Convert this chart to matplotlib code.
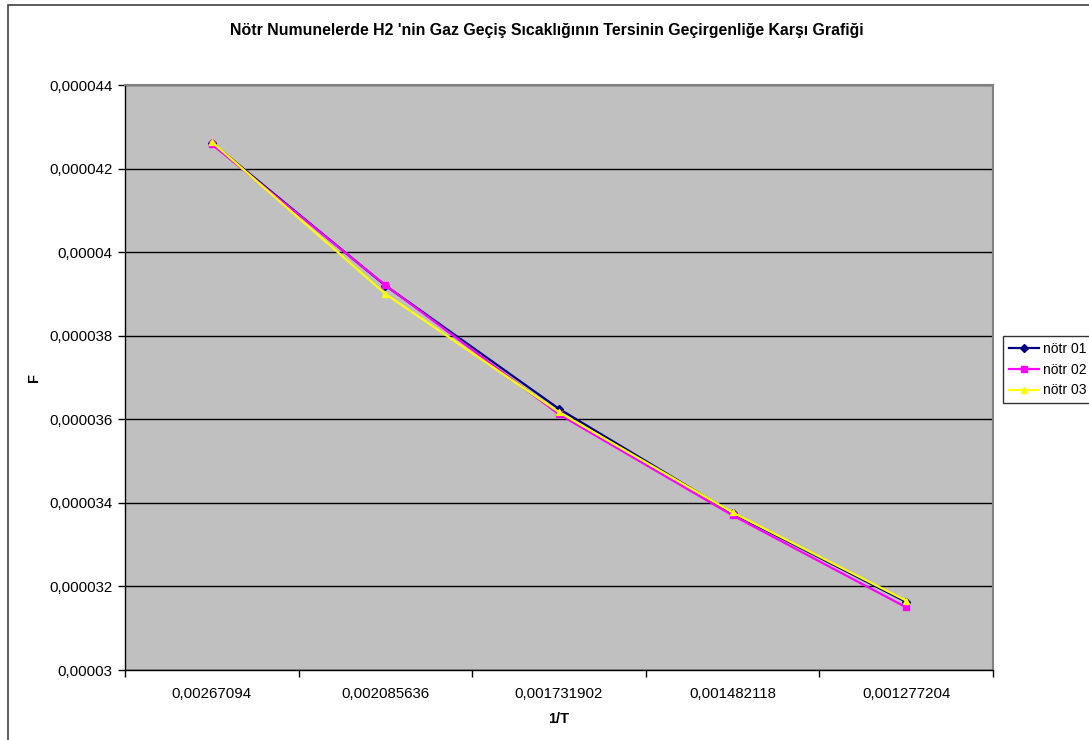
import matplotlib
matplotlib.use("Agg")
import matplotlib.pyplot as plt
from matplotlib.patches import Rectangle
from matplotlib.ticker import FixedLocator

plt.rcParams['font.family'] = ['Liberation Sans', 'DejaVu Sans']

categories = ["0,00267094", "0,002085636", "0,001731902", "0,001482118", "0,001277204"]
notr01 = [42.62e-6, 39.20e-6, 36.25e-6, 33.75e-6, 31.63e-6]
notr02 = [42.58e-6, 39.21e-6, 36.12e-6, 33.70e-6, 31.50e-6]
notr03 = [42.64e-6, 39.00e-6, 36.17e-6, 33.77e-6, 31.66e-6]
y_ticks = [30e-6, 32e-6, 34e-6, 36e-6, 38e-6, 40e-6, 42e-6, 44e-6]
y_tick_labels = ["0,00003", "0,000032", "0,000034", "0,000036", "0,000038",
                 "0,00004", "0,000042", "0,000044"]

W, H = 1089, 740
fig = plt.figure(figsize=(W / 100, H / 100), dpi=100)
fig.patch.set_facecolor("white")

# outer chart frame
fig.patches.append(Rectangle((8 / W, -0.05), 1.2, 1 - 5 / H + 0.05,
                             transform=fig.transFigure, fill=False,
                             edgecolor="#404040", linewidth=1.2))

ax = fig.add_axes([125 / W, 1 - 670 / H, (993 - 125) / W, (670 - 85) / H])
ax.set_facecolor("#C0C0C0")

x = list(range(len(categories)))
ax.plot(x, notr01, color="#000080", marker="D", markersize=4, linewidth=1.6,
        label="nötr 01", zorder=3)
ax.plot(x, notr02, color="#FF00FF", marker="s", markersize=4, linewidth=1.6,
        label="nötr 02", zorder=4)
ax.plot(x, notr03, color="#FFFF00", marker="^", markersize=5, linewidth=1.6,
        label="nötr 03", zorder=5)

ax.set_xlim(-0.5, len(categories) - 0.5)
ax.set_ylim(30e-6, 44e-6)
ax.set_yticks(y_ticks)
ax.set_yticklabels(y_tick_labels)
ax.set_xticks(x)
ax.set_xticklabels(categories)
ax.tick_params(axis="x", which="major", length=0, pad=12, labelsize=10.8, colors="black")
ax.xaxis.set_minor_locator(FixedLocator([i - 0.5 for i in range(len(categories) + 1)]))
ax.tick_params(axis="x", which="minor", length=5, width=1, direction="out")
ax.tick_params(axis="y", length=5, width=1, direction="out", labelsize=10.8, pad=4)

ax.grid(axis="y", color="black", linewidth=1)
ax.set_axisbelow(True)

for side in ["top", "right"]:
    ax.spines[side].set_color("#808080")
    ax.spines[side].set_linewidth(1.5)
for side in ["left", "bottom"]:
    ax.spines[side].set_color("black")
    ax.spines[side].set_linewidth(1)

ax.set_xlabel("1/T", fontweight="bold", fontsize=10.5, labelpad=8)
ax.set_ylabel("F", fontweight="bold", fontsize=10.5)
ax.yaxis.set_label_coords(-84 / (993 - 125), 0.5)

fig.text(547 / W, 1 - 30 / H,
         "Nötr Numunelerde H2 'nin Gaz Geçiş Sıcaklığının Tersinin Geçirgenliğe Karşı Grafiği",
         ha="center", va="center", fontsize=11.4, fontweight="bold")

leg = fig.legend(loc="upper left", bbox_to_anchor=(1003 / W, 1 - 336 / H),
                 fontsize=10, frameon=True, fancybox=False, edgecolor="black",
                 borderpad=0.4, labelspacing=0.5, handlelength=2.2,
                 handletextpad=0.3, borderaxespad=0)
leg.get_frame().set_linewidth(1)

fig.savefig("out.png", dpi=100)
